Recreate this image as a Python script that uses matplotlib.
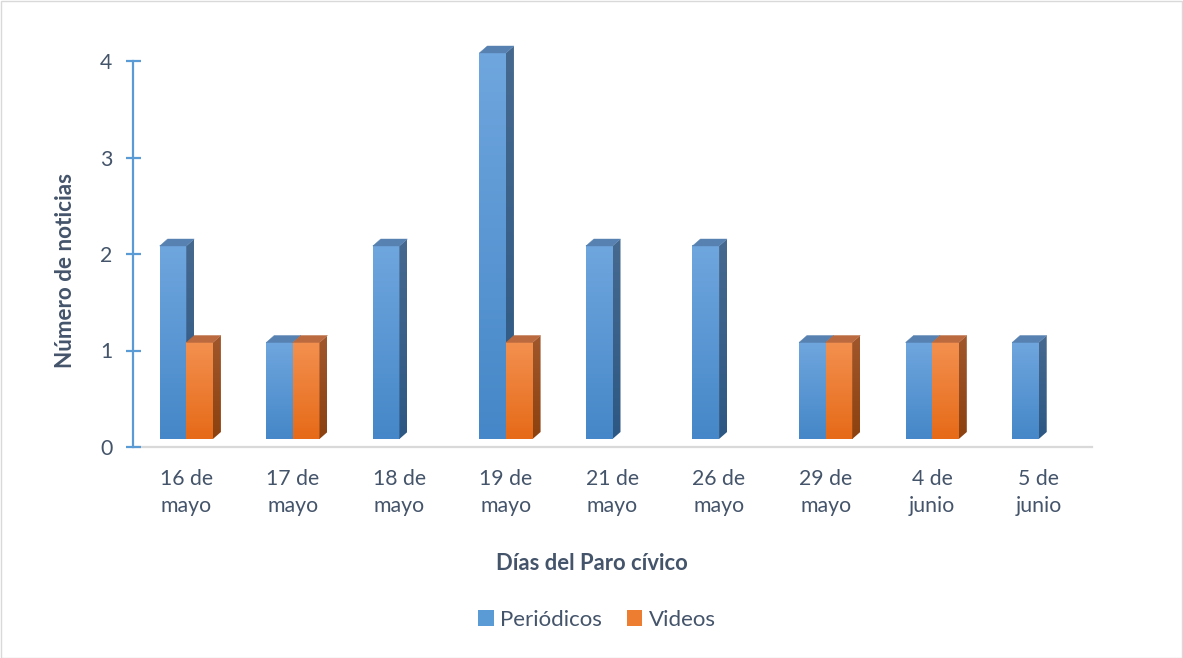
import matplotlib
matplotlib.use("Agg")
import matplotlib.pyplot as plt
import numpy as np
from matplotlib.transforms import ScaledTranslation
from matplotlib.patches import Polygon, Rectangle
from matplotlib.colors import LinearSegmentedColormap

# ---------------- data ----------------
categories = ["16 de\nmayo", "17 de\nmayo", "18 de\nmayo", "19 de\nmayo",
              "21 de\nmayo", "26 de\nmayo", "29 de\nmayo", "4 de\njunio", "5 de\njunio"]
periodicos = [2, 1, 2, 4, 2, 2, 1, 1, 1]
videos = [1, 1, 0, 1, 0, 0, 1, 1, 0]
y_ticks = [0, 1, 2, 3, 4]
series_names = ["Periódicos", "Videos"]

# ---------------- style ----------------
FONT = ["Lato", "DejaVu Sans"]
plt.rcParams['font.family'] = FONT
TEXT = "#44546A"
W, H, DPI = 1183, 658, 100

styles = {
    "Periódicos": dict(top="#6FA6DE", bottom="#4587C8", side_top="#46698F",
                       side_bottom="#2D5883", cap="#5781B0", legend="#5B9BD5"),
    "Videos": dict(top="#F3904F", bottom="#E66A18", side_top="#A0572B",
                   side_bottom="#8C4110", cap="#BA6A3E", legend="#ED7D31"),
}

fig = plt.figure(figsize=(W / DPI, H / DPI), dpi=DPI)
ax_l, ax_r, ax_t, ax_b = 133, 1092, 61, 447
ax = fig.add_axes([ax_l / W, 1 - ax_b / H, (ax_r - ax_l) / W, (ax_b - ax_t) / H])

n = len(categories)
xlim = (-0.5, n - 0.5)
ylim = (0, 4)

# pixel geometry of the pseudo-3D effect
lift_px, dx_px, dy_px = 8, 8, 7
px_per_x = (ax_r - ax_l) / (xlim[1] - xlim[0])
px_per_y = (ax_b - ax_t) / (ylim[1] - ylim[0])
ddx = dx_px / px_per_x
ddy = dy_px / px_per_y
front_tr = ax.transData + ScaledTranslation(0, lift_px / DPI, fig.dpi_scale_trans)

bar_w = 0.25
x = np.arange(n)
grad = np.linspace(1, 0, 128).reshape(-1, 1)


def draw_bar(x0, v, st, z):
    if v <= 0:
        return
    cmap = LinearSegmentedColormap.from_list("g", [st["bottom"], st["top"]])
    im = ax.imshow(grad, extent=[x0, x0 + bar_w, 0, v], cmap=cmap, aspect="auto",
                   interpolation="bilinear", zorder=z, vmin=0, vmax=1, origin="upper")
    im.set_transform(front_tr)
    im.set_clip_on(False)
    # side face
    side = Polygon([(x0 + bar_w, 0), (x0 + bar_w + ddx, ddy), (x0 + bar_w + ddx, v + ddy),
                    (x0 + bar_w, v)], closed=True, transform=front_tr, facecolor="none",
                   edgecolor="none", clip_on=False)
    ax.add_patch(side)
    scmap = LinearSegmentedColormap.from_list("s", [st["side_bottom"], st["side_top"]])
    sim = ax.imshow(grad, extent=[x0 + bar_w, x0 + bar_w + ddx, 0, v + ddy], cmap=scmap,
                    aspect="auto", interpolation="bilinear", zorder=z, vmin=0, vmax=1,
                    origin="upper")
    sim.set_transform(front_tr)
    sim.set_clip_path(side)
    sim.set_clip_box(fig.bbox)
    # top face
    cap = Polygon([(x0, v), (x0 + bar_w, v), (x0 + bar_w + ddx, v + ddy), (x0 + ddx, v + ddy)],
                  closed=True, transform=front_tr, facecolor=st["cap"], edgecolor=st["cap"],
                  linewidth=0.3, zorder=z, clip_on=False)
    ax.add_patch(cap)


for i in range(n):
    draw_bar(x[i] - bar_w, periodicos[i], styles["Periódicos"], 3 + i * 0.1)
    draw_bar(x[i], videos[i], styles["Videos"], 3.05 + i * 0.1)

ax.set_xlim(*xlim)
ax.set_ylim(*ylim)

# axes styling
for s in ["top", "right"]:
    ax.spines[s].set_visible(False)
ax.spines["left"].set_color("#5B9BD5")
ax.spines["left"].set_linewidth(1.6)
ax.spines["bottom"].set_color("#D9D9D9")
ax.spines["bottom"].set_linewidth(1.6)
ax.spines["bottom"].set_zorder(1)

ax.set_yticks(y_ticks)
ax.tick_params(axis="y", direction="inout", length=10.8, width=1.6, color="#5B9BD5",
               labelsize=15.3, labelcolor=TEXT, pad=9.5)
ax.set_xticks(x)
ax.set_xticklabels(categories, linespacing=1.45)
ax.tick_params(axis="x", length=0, labelsize=15.3, labelcolor=TEXT, pad=16)

ax.set_ylabel("Número de noticias", fontsize=16.2, fontweight="bold", color=TEXT)
ax.yaxis.set_label_coords((65 - ax_l) / (ax_r - ax_l), (ax_b - 271) / (ax_b - ax_t))
ax.yaxis.label.set_va("center")
ax.set_xlabel("Días del Paro cívico", fontsize=15.8, fontweight="bold", color=TEXT)
ax.xaxis.set_label_coords((592 - ax_l) / (ax_r - ax_l), (ax_b - 563) / (ax_b - ax_t))
ax.xaxis.label.set_va("center")

handles = [Rectangle((0, 0), 1, 1, facecolor=styles[s]["legend"], edgecolor="none")
           for s in series_names]
leg = fig.legend(handles, series_names, loc="center", ncol=2, frameon=False,
                 bbox_to_anchor=(597 / W, 1 - 620 / H), fontsize=16, handlelength=0.7,
                 handleheight=0.7, handletextpad=0.3, columnspacing=1.1)
for t in leg.get_texts():
    t.set_color(TEXT)

fig.patches.append(Rectangle((0.5 / W, 0.5 / H), 1 - 1.5 / W, 1 - 1.5 / H,
                             transform=fig.transFigure, fill=False,
                             edgecolor="#D9D9D9", linewidth=1))

fig.savefig("out.png", dpi=DPI)
